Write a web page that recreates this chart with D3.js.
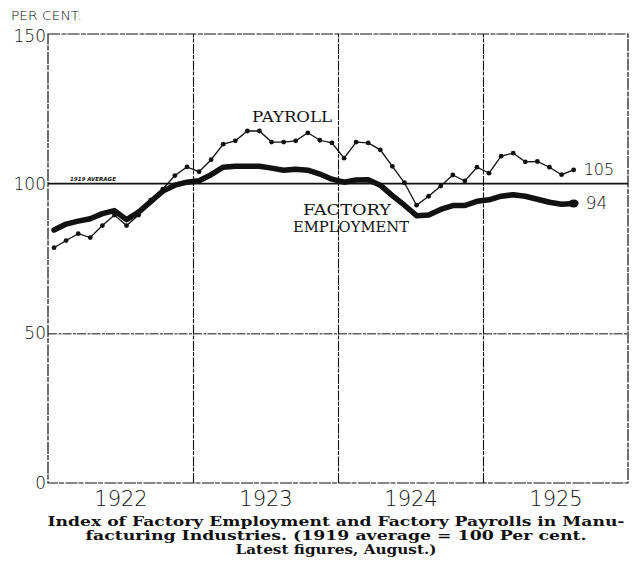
<!DOCTYPE html>
<html><head><meta charset="utf-8">
<script src="https://cdn.jsdelivr.net/npm/d3@7"></script>
<style>
html,body{margin:0;padding:0;background:#fff;}
svg{display:block;}
</style></head>
<body>
<svg id="chart" width="632" height="570"></svg>
<script>
// ---- data (monthly, Jan 1922 .. Aug 1925) ----
const years = ["1922", "1923", "1924", "1925"];
const payroll = [
  78.6, 81, 83.3, 82, 86, 89.5, 86, 89.5, 94.5, 98.2, 102.7, 105.6,
  104, 108, 113.2, 114.3, 117.6, 117.6, 113.9, 113.9, 114.3, 117, 114.5, 113.6,
  108.5, 113.9, 113.6, 111.3, 105.8, 100.3, 92.8, 95.8, 99.2, 102.9, 100.9, 105.5,
  103.5, 109.2, 110.2, 107.3, 107.4, 105.5, 103, 104.6
];
const employment = [
  84.5, 86.5, 87.5, 88.3, 90, 91, 88, 90.5, 94, 97.5, 99.5, 100.5,
  101, 103, 105.5, 105.8, 105.8, 105.8, 105.2, 104.5, 104.8, 104.5, 103.2, 101.5,
  100.5, 101.2, 101.3, 99.5, 96, 92.8, 89.3, 89.5, 91.4, 92.7, 92.7, 94.1,
  94.6, 95.8, 96.3, 95.8, 94.8, 93.8, 93.1, 93.4
];
const yTicks = [0, 50, 100, 150];
const latestLabels = ["105", "94"];
const caption = [
  "Index of Factory Employment and Factory Payrolls in Manu-",
  "facturing Industries.  (1919 average = 100 Per cent.",
  "Latest figures, August.)"
];

const svg = d3.select("#chart");
const L = 48, R = 628, T = 34, B = 483;
const x = d3.scaleLinear().domain([0, 48]).range([L, R]);
const y = d3.scaleLinear().domain([0, 150]).range([B, T]);
const ink = "#111";

// grid: horizontal
const gy = svg.append("g").attr("transform", `translate(${L},0)`)
  .call(d3.axisLeft(y).tickValues([50]).tickSize(-(R - L)).tickFormat(""));
gy.select(".domain").remove();
gy.selectAll("line").attr("stroke", ink).attr("stroke-width", 1).attr("stroke-dasharray", "9 1.5 3 1");

// grid: vertical year separators
const gx = svg.append("g").attr("transform", `translate(0,${B})`)
  .call(d3.axisBottom(x).tickValues([12, 24, 36]).tickSize(-(B - T)).tickFormat(""));
gx.select(".domain").remove();
gx.selectAll("line").attr("stroke", ink).attr("stroke-width", 1.1).attr("stroke-dasharray", "10 1.5 4 1");

// frame
svg.append("rect").attr("x", L).attr("y", T).attr("width", R - L).attr("height", B - T)
  .attr("fill", "none").attr("stroke", ink).attr("stroke-width", 1.2).attr("stroke-dasharray", "12 1.5 5 1");

// 100 line (1919 average)
svg.append("line").attr("x1", L).attr("x2", R).attr("y1", y(100)).attr("y2", y(100))
  .attr("stroke", ink).attr("stroke-width", 1.7);
svg.append("text").attr("x", 70).attr("y", y(100) - 3)
  .attr("font-family", "DejaVu Sans, sans-serif").attr("font-size", 5.5).attr("font-weight", "bold")
  .attr("font-style", "italic").attr("fill", ink).text("1919 AVERAGE");

// y axis labels
const ya = svg.append("g").attr("transform", `translate(${L - 2},0)`)
  .call(d3.axisLeft(y).tickValues(yTicks).tickSize(0).tickPadding(0));
ya.select(".domain").remove();
ya.selectAll("text").attr("font-family", "DejaVu Sans, sans-serif").attr("font-weight", 200)
  .attr("font-size", 17).attr("fill", ink);
ya.selectAll(".tick").filter(d => d === 150).select("text").attr("dy", "0.45em");

svg.append("text").attr("x", 11).attr("y", 20)
  .attr("font-family", "DejaVu Sans, sans-serif").attr("font-weight", 300)
  .attr("font-size", 13).attr("fill", ink).attr("textLength", 71).attr("lengthAdjust", "spacingAndGlyphs")
  .text("PER CENT.");

// x axis year labels
const xa = svg.append("g").attr("transform", `translate(0,${B})`)
  .call(d3.axisBottom(x).tickValues([6, 18, 30, 42]).tickSize(0).tickPadding(8)
    .tickFormat((d, i) => years[i]));
xa.select(".domain").remove();
xa.selectAll("text").attr("font-family", "DejaVu Sans, sans-serif").attr("font-weight", 200)
  .attr("font-size", 21).attr("fill", ink);

// lines
const line = d3.line().x((d, i) => x(i + 0.5)).y(d => y(d)).curve(d3.curveLinear);
svg.append("path").datum(employment).attr("d", line)
  .attr("fill", "none").attr("stroke", ink).attr("stroke-width", 5.5)
  .attr("stroke-linejoin", "round").attr("stroke-linecap", "round");
svg.append("ellipse").attr("cx", x(employment.length - 0.5)).attr("cy", y(employment[employment.length - 1]))
  .attr("rx", 5).attr("ry", 4).attr("fill", ink);

svg.append("path").datum(payroll).attr("d", line)
  .attr("fill", "none").attr("stroke", ink).attr("stroke-width", 1.3);
svg.selectAll("circle.p").data(payroll).enter().append("circle").attr("class", "p")
  .attr("cx", (d, i) => x(i + 0.5)).attr("cy", d => y(d)).attr("r", 2.4).attr("fill", ink);

// series labels
const lab = (t, cx, cy, w) => svg.append("text").attr("x", cx).attr("y", cy).attr("text-anchor", "middle")
  .attr("font-family", "DejaVu Serif, serif").attr("font-weight", 300).attr("font-size", 15)
  .attr("fill", ink).attr("textLength", w).attr("lengthAdjust", "spacingAndGlyphs").text(t);
lab("PAYROLL", 292, 122, 80);
lab("FACTORY", 347, 215, 88);
lab("EMPLOYMENT", 351, 232, 116);

// latest values
const lastX = x(payroll.length - 0.5);
svg.append("text").attr("x", lastX + 10).attr("y", y(payroll[payroll.length - 1]) + 5)
  .attr("font-family", "DejaVu Sans, sans-serif").attr("font-weight", 200).attr("font-size", 16)
  .attr("fill", ink).text(latestLabels[0]);
svg.append("text").attr("x", lastX + 12).attr("y", y(employment[employment.length - 1]) + 6)
  .attr("font-family", "DejaVu Sans, sans-serif").attr("font-weight", 200).attr("font-size", 17)
  .attr("fill", ink).text(latestLabels[1]);

// caption
const capY = [526, 540, 554];
const capW = [577, 501, 201];
caption.forEach((c, i) => {
  svg.append("text").attr("x", 336).attr("y", capY[i]).attr("text-anchor", "middle")
    .attr("font-family", "DejaVu Serif, serif").attr("font-weight", "bold").attr("font-size", 12.3)
    .attr("fill", ink).attr("textLength", capW[i]).attr("lengthAdjust", "spacingAndGlyphs").text(c);
});
</script>
</body></html>
